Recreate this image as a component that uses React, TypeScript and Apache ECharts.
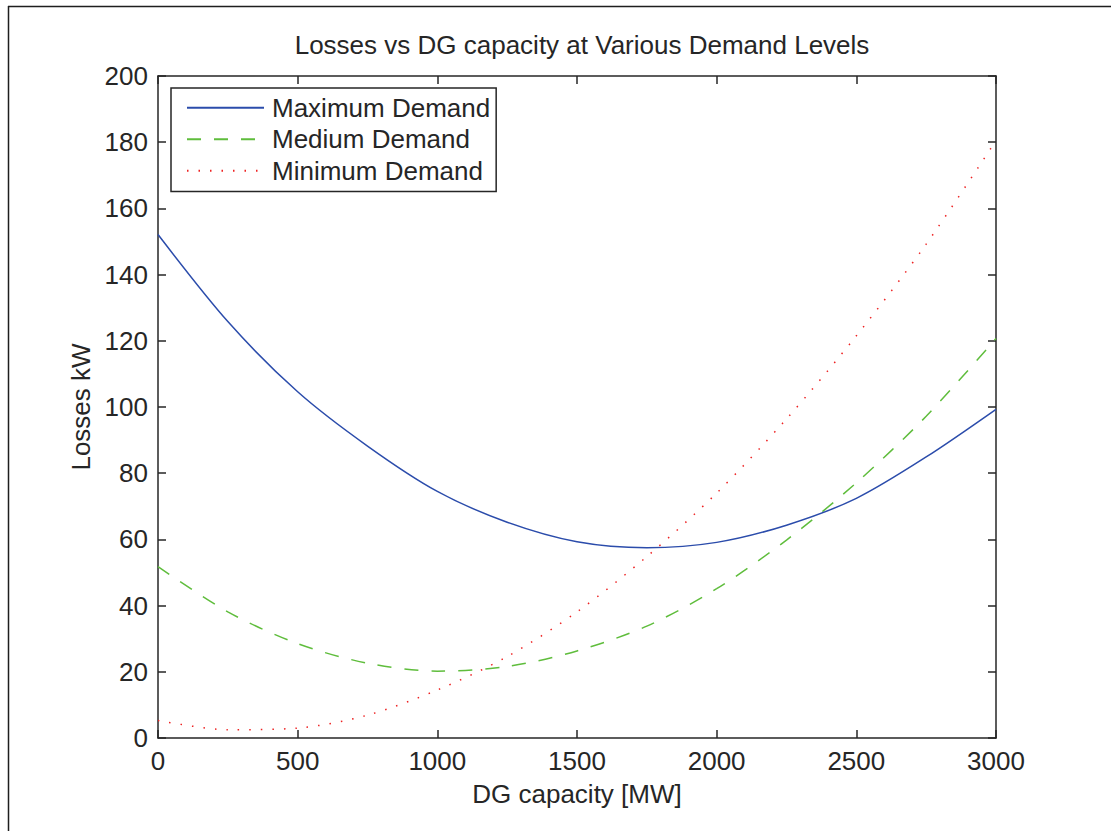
import React, { useEffect, useRef } from "react";
import * as echarts from "echarts";

const dgCapacity = [0, 250, 500, 750, 1000, 1250, 1500, 1750, 2000, 2250, 2500, 2750, 3000];
const maxDemand = [152.1, 125.8, 104.6, 88.2, 74.5, 65.2, 59.3, 57.5, 59.1, 64.3, 72.4, 84.9, 99.3];
const medDemand = [51.8, 38.1, 28.5, 22.6, 20.2, 21.6, 26.3, 33.8, 45.1, 59.8, 77.1, 97.2, 120.7];
const minDemand = [5.3, 2.5, 3.0, 6.9, 14.5, 24.6, 38.1, 54.8, 74.0, 96.4, 121.5, 149.2, 180.5];

const xTicks = { min: 0, max: 3000, interval: 500 };
const yTicks = { min: 0, max: 200, interval: 20 };

const FONT = "'Liberation Sans', Arial, Helvetica, sans-serif";
const INK = "#262626";
const FS = 26;

function pairs(ys: number[]) {
  return dgCapacity.map((x, i) => [x, ys[i]]);
}

export default function App() {
  const ref = useRef<HTMLDivElement>(null);
  useEffect(() => {
    if (!ref.current) return;
    const chart = echarts.init(ref.current, null, { renderer: "svg" });
    const axisLine = { show: true, onZero: false, lineStyle: { color: INK, width: 1.5 } };
    const axisTick = { show: true, inside: true, length: 8, lineStyle: { color: INK, width: 1.5 } };
    const label = { color: INK, fontSize: FS, fontFamily: FONT, formatter: (v: number) => String(v) };
    chart.setOption({
      animation: false,
      backgroundColor: "#ffffff",
      textStyle: { fontFamily: FONT },
      title: {
        text: "Losses vs DG capacity at Various Demand Levels",
        left: 577,
        top: 27,
        textAlign: "center",
        textStyle: { color: INK, fontSize: FS, fontWeight: "normal", fontFamily: FONT },
      },
      grid: { left: 158, top: 76, width: 838, height: 662, containLabel: false, outerBoundsMode: "none" },
      legend: {
        orient: "vertical",
        left: 171,
        top: 88,
        padding: [4, 6, 5, 15],
        itemWidth: 77,
        itemHeight: 20,
        itemGap: 0,
        borderColor: INK,
        borderWidth: 1.5,
        backgroundColor: "#ffffff",
        itemStyle: { opacity: 0 },
        textStyle: { color: INK, fontSize: FS, fontFamily: FONT, lineHeight: 31.5, padding: [0, 0, 0, 3] },
        data: ["Maximum Demand", "Medium Demand", "Minimum Demand"],
      },
      xAxis: [
        {
          type: "value",
          position: "bottom",
          ...xTicks,
          axisLine,
          axisTick,
          splitLine: { show: false },
          axisLabel: { ...label, margin: 10 },
          name: "DG capacity [MW]",
          nameLocation: "middle",
          nameGap: 43,
          nameTextStyle: { color: INK, fontSize: FS, fontFamily: FONT },
        },
        {
          type: "value",
          position: "top",
          ...xTicks,
          axisLine,
          axisTick,
          splitLine: { show: false },
          axisLabel: { show: false },
        },
      ],
      yAxis: [
        {
          type: "value",
          position: "left",
          ...yTicks,
          axisLine,
          axisTick,
          splitLine: { show: false },
          axisLabel: { ...label, margin: 10 },
          name: "Losses kW",
          nameLocation: "middle",
          nameGap: 58,
          nameTextStyle: { color: INK, fontSize: FS, fontFamily: FONT },
        },
        {
          type: "value",
          position: "right",
          ...yTicks,
          axisLine,
          axisTick,
          splitLine: { show: false },
          axisLabel: { show: false },
        },
      ],
      graphic: [
        { type: "line", shape: { x1: 8, y1: 6.5, x2: 1111, y2: 6.5 }, style: { stroke: "#1e1e1e", lineWidth: 1.5 }, silent: true },
        { type: "line", shape: { x1: 8.5, y1: 6, x2: 8.5, y2: 831 }, style: { stroke: "#1e1e1e", lineWidth: 1.5 }, silent: true },
      ],
      series: [
        {
          name: "Maximum Demand",
          type: "line",
          data: pairs(maxDemand),
          smooth: 0.3,
          symbol: "none",
          showSymbol: false,
          color: "#2b4cab",
          lineStyle: { color: "#2b4cab", width: 1.5, type: "solid" },
          z: 3,
        },
        {
          name: "Medium Demand",
          type: "line",
          data: pairs(medDemand),
          smooth: 0.3,
          symbol: "none",
          showSymbol: false,
          color: "#5fbd3c",
          lineStyle: { color: "#5fbd3c", width: 1.5, type: [14, 13] },
          z: 2,
        },
        {
          name: "Minimum Demand",
          type: "line",
          data: pairs(minDemand),
          smooth: 0.3,
          symbol: "none",
          showSymbol: false,
          color: "#ee2222",
          lineStyle: { color: "#ee2222", width: 1.5, type: [1.5, 10] },
          z: 1,
        },
      ],
    });
    return () => chart.dispose();
  }, []);
  return (
    <div
      ref={ref}
      style={{ position: "fixed", left: 0, top: 0, width: 1111, height: 831, background: "#fff" }}
    />
  );
}
